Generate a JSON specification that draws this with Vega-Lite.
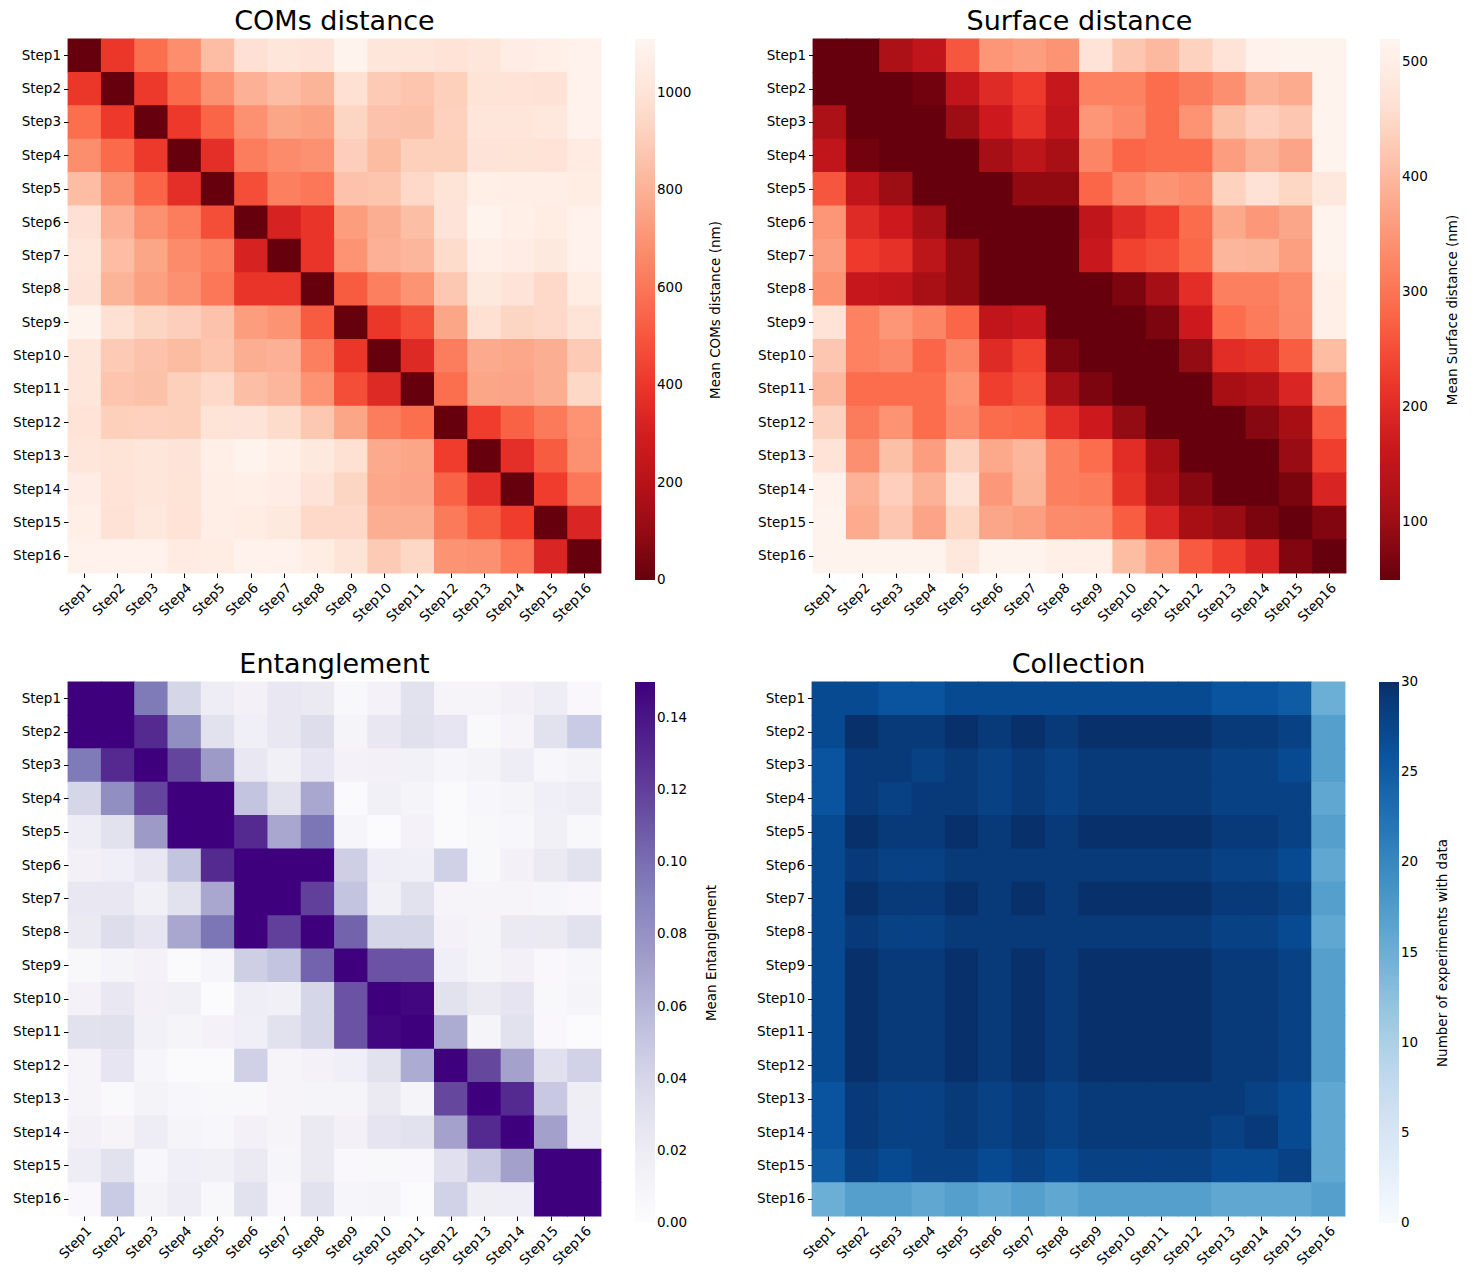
{
"$schema": "https://vega.github.io/schema/vega-lite/v6.json",
"padding": {"left": 12, "top": 7, "right": 5, "bottom": 5},
"background": "white",
"data": {"values": [
{"r":1,"c":1,"com":0,"surf":50,"ent":0.15,"n":27},{"r":1,"c":2,"com":400,"surf":50,"ent":0.15,"n":27},{"r":1,"c":3,"com":570,"surf":120,"ent":0.095,"n":26},{"r":1,"c":4,"com":680,"surf":150,"ent":0.04,"n":26},{"r":1,"c":5,"com":840,"surf":260,"ent":0.02,"n":27},{"r":1,"c":6,"com":980,"surf":350,"ent":0.013,"n":27},{"r":1,"c":7,"com":1010,"surf":360,"ent":0.025,"n":27},{"r":1,"c":8,"com":1000,"surf":345,"ent":0.022,"n":27},{"r":1,"c":9,"com":1100,"surf":470,"ent":0.006,"n":27},{"r":1,"c":10,"com":1010,"surf":420,"ent":0.012,"n":27},{"r":1,"c":11,"com":1010,"surf":400,"ent":0.03,"n":27},{"r":1,"c":12,"com":990,"surf":440,"ent":0.009,"n":27},{"r":1,"c":13,"com":1010,"surf":470,"ent":0.009,"n":26},{"r":1,"c":14,"com":1060,"surf":510,"ent":0.013,"n":26},{"r":1,"c":15,"com":1070,"surf":515,"ent":0.02,"n":25},{"r":1,"c":16,"com":1085,"surf":515,"ent":0.005,"n":15},
{"r":2,"c":1,"com":400,"surf":50,"ent":0.15,"n":27},{"r":2,"c":2,"com":0,"surf":50,"ent":0.15,"n":30},{"r":2,"c":3,"com":410,"surf":50,"ent":0.13,"n":29},{"r":2,"c":4,"com":560,"surf":60,"ent":0.083,"n":29},{"r":2,"c":5,"com":690,"surf":150,"ent":0.03,"n":30},{"r":2,"c":6,"com":800,"surf":200,"ent":0.017,"n":29},{"r":2,"c":7,"com":840,"surf":225,"ent":0.025,"n":30},{"r":2,"c":8,"com":810,"surf":160,"ent":0.035,"n":29},{"r":2,"c":9,"com":975,"surf":320,"ent":0.01,"n":30},{"r":2,"c":10,"com":890,"surf":320,"ent":0.025,"n":30},{"r":2,"c":11,"com":870,"surf":290,"ent":0.031,"n":30},{"r":2,"c":12,"com":910,"surf":312,"ent":0.027,"n":30},{"r":2,"c":13,"com":995,"surf":340,"ent":0.004,"n":29},{"r":2,"c":14,"com":990,"surf":390,"ent":0.009,"n":29},{"r":2,"c":15,"com":985,"surf":380,"ent":0.03,"n":28},{"r":2,"c":16,"com":1090,"surf":515,"ent":0.048,"n":17},
{"r":3,"c":1,"com":570,"surf":120,"ent":0.095,"n":26},{"r":3,"c":2,"com":410,"surf":50,"ent":0.13,"n":29},{"r":3,"c":3,"com":0,"surf":50,"ent":0.15,"n":29},{"r":3,"c":4,"com":410,"surf":50,"ent":0.118,"n":28},{"r":3,"c":5,"com":540,"surf":100,"ent":0.075,"n":29},{"r":3,"c":6,"com":690,"surf":170,"ent":0.025,"n":28},{"r":3,"c":7,"com":760,"surf":210,"ent":0.015,"n":29},{"r":3,"c":8,"com":740,"surf":150,"ent":0.027,"n":28},{"r":3,"c":9,"com":930,"surf":350,"ent":0.012,"n":29},{"r":3,"c":10,"com":860,"surf":330,"ent":0.013,"n":29},{"r":3,"c":11,"com":855,"surf":290,"ent":0.014,"n":29},{"r":3,"c":12,"com":915,"surf":345,"ent":0.008,"n":29},{"r":3,"c":13,"com":1010,"surf":410,"ent":0.011,"n":28},{"r":3,"c":14,"com":1010,"surf":435,"ent":0.02,"n":28},{"r":3,"c":15,"com":1020,"surf":420,"ent":0.007,"n":27},{"r":3,"c":16,"com":1090,"surf":515,"ent":0.011,"n":17},
{"r":4,"c":1,"com":680,"surf":150,"ent":0.04,"n":26},{"r":4,"c":2,"com":560,"surf":60,"ent":0.083,"n":29},{"r":4,"c":3,"com":410,"surf":50,"ent":0.118,"n":28},{"r":4,"c":4,"com":0,"surf":50,"ent":0.15,"n":29},{"r":4,"c":5,"com":370,"surf":50,"ent":0.15,"n":29},{"r":4,"c":6,"com":620,"surf":110,"ent":0.052,"n":28},{"r":4,"c":7,"com":670,"surf":145,"ent":0.03,"n":29},{"r":4,"c":8,"com":690,"surf":115,"ent":0.068,"n":28},{"r":4,"c":9,"com":905,"surf":325,"ent":0.003,"n":29},{"r":4,"c":10,"com":835,"surf":280,"ent":0.015,"n":29},{"r":4,"c":11,"com":910,"surf":290,"ent":0.01,"n":29},{"r":4,"c":12,"com":910,"surf":290,"ent":0.003,"n":29},{"r":4,"c":13,"com":1000,"surf":360,"ent":0.007,"n":28},{"r":4,"c":14,"com":995,"surf":390,"ent":0.01,"n":28},{"r":4,"c":15,"com":990,"surf":370,"ent":0.017,"n":28},{"r":4,"c":16,"com":1045,"surf":515,"ent":0.02,"n":16},
{"r":5,"c":1,"com":840,"surf":260,"ent":0.02,"n":27},{"r":5,"c":2,"com":690,"surf":150,"ent":0.03,"n":30},{"r":5,"c":3,"com":540,"surf":100,"ent":0.075,"n":29},{"r":5,"c":4,"com":370,"surf":50,"ent":0.15,"n":29},{"r":5,"c":5,"com":0,"surf":50,"ent":0.15,"n":30},{"r":5,"c":6,"com":470,"surf":50,"ent":0.13,"n":29},{"r":5,"c":7,"com":630,"surf":90,"ent":0.068,"n":30},{"r":5,"c":8,"com":600,"surf":90,"ent":0.097,"n":29},{"r":5,"c":9,"com":860,"surf":280,"ent":0.008,"n":30},{"r":5,"c":10,"com":870,"surf":325,"ent":0.001,"n":30},{"r":5,"c":11,"com":945,"surf":345,"ent":0.012,"n":30},{"r":5,"c":12,"com":995,"surf":335,"ent":0.003,"n":30},{"r":5,"c":13,"com":1070,"surf":440,"ent":0.006,"n":29},{"r":5,"c":14,"com":1065,"surf":468,"ent":0.007,"n":29},{"r":5,"c":15,"com":1065,"surf":445,"ent":0.015,"n":28},{"r":5,"c":16,"com":1050,"surf":485,"ent":0.006,"n":17},
{"r":6,"c":1,"com":980,"surf":350,"ent":0.013,"n":27},{"r":6,"c":2,"com":800,"surf":200,"ent":0.017,"n":29},{"r":6,"c":3,"com":690,"surf":170,"ent":0.025,"n":28},{"r":6,"c":4,"com":620,"surf":110,"ent":0.052,"n":28},{"r":6,"c":5,"com":470,"surf":50,"ent":0.13,"n":29},{"r":6,"c":6,"com":0,"surf":50,"ent":0.15,"n":29},{"r":6,"c":7,"com":320,"surf":50,"ent":0.15,"n":29},{"r":6,"c":8,"com":390,"surf":50,"ent":0.15,"n":29},{"r":6,"c":9,"com":730,"surf":150,"ent":0.045,"n":29},{"r":6,"c":10,"com":790,"surf":200,"ent":0.019,"n":29},{"r":6,"c":11,"com":845,"surf":230,"ent":0.017,"n":29},{"r":6,"c":12,"com":1000,"surf":288,"ent":0.044,"n":29},{"r":6,"c":13,"com":1100,"surf":375,"ent":0.006,"n":28},{"r":6,"c":14,"com":1070,"surf":352,"ent":0.013,"n":28},{"r":6,"c":15,"com":1050,"surf":372,"ent":0.022,"n":27},{"r":6,"c":16,"com":1090,"surf":515,"ent":0.03,"n":16},
{"r":7,"c":1,"com":1010,"surf":360,"ent":0.025,"n":27},{"r":7,"c":2,"com":840,"surf":225,"ent":0.025,"n":30},{"r":7,"c":3,"com":760,"surf":210,"ent":0.015,"n":29},{"r":7,"c":4,"com":670,"surf":145,"ent":0.03,"n":29},{"r":7,"c":5,"com":630,"surf":90,"ent":0.068,"n":30},{"r":7,"c":6,"com":320,"surf":50,"ent":0.15,"n":29},{"r":7,"c":7,"com":0,"surf":50,"ent":0.15,"n":30},{"r":7,"c":8,"com":390,"surf":50,"ent":0.12,"n":29},{"r":7,"c":9,"com":700,"surf":165,"ent":0.052,"n":30},{"r":7,"c":10,"com":800,"surf":235,"ent":0.015,"n":30},{"r":7,"c":11,"com":815,"surf":250,"ent":0.03,"n":30},{"r":7,"c":12,"com":955,"surf":282,"ent":0.009,"n":30},{"r":7,"c":13,"com":1070,"surf":395,"ent":0.009,"n":29},{"r":7,"c":14,"com":1060,"surf":392,"ent":0.009,"n":29},{"r":7,"c":15,"com":1030,"surf":362,"ent":0.008,"n":28},{"r":7,"c":16,"com":1085,"surf":515,"ent":0.005,"n":17},
{"r":8,"c":1,"com":1000,"surf":345,"ent":0.022,"n":27},{"r":8,"c":2,"com":810,"surf":160,"ent":0.035,"n":29},{"r":8,"c":3,"com":740,"surf":150,"ent":0.027,"n":28},{"r":8,"c":4,"com":690,"surf":115,"ent":0.068,"n":28},{"r":8,"c":5,"com":600,"surf":90,"ent":0.097,"n":29},{"r":8,"c":6,"com":390,"surf":50,"ent":0.15,"n":29},{"r":8,"c":7,"com":390,"surf":50,"ent":0.12,"n":29},{"r":8,"c":8,"com":0,"surf":50,"ent":0.15,"n":29},{"r":8,"c":9,"com":510,"surf":50,"ent":0.105,"n":29},{"r":8,"c":10,"com":630,"surf":70,"ent":0.04,"n":29},{"r":8,"c":11,"com":700,"surf":110,"ent":0.04,"n":29},{"r":8,"c":12,"com":880,"surf":205,"ent":0.012,"n":29},{"r":8,"c":13,"com":1030,"surf":318,"ent":0.01,"n":28},{"r":8,"c":14,"com":1000,"surf":317,"ent":0.022,"n":28},{"r":8,"c":15,"com":945,"surf":333,"ent":0.022,"n":27},{"r":8,"c":16,"com":1050,"surf":502,"ent":0.03,"n":16},
{"r":9,"c":1,"com":1100,"surf":470,"ent":0.006,"n":27},{"r":9,"c":2,"com":975,"surf":320,"ent":0.01,"n":30},{"r":9,"c":3,"com":930,"surf":350,"ent":0.012,"n":29},{"r":9,"c":4,"com":905,"surf":325,"ent":0.003,"n":29},{"r":9,"c":5,"com":860,"surf":280,"ent":0.008,"n":30},{"r":9,"c":6,"com":730,"surf":150,"ent":0.045,"n":29},{"r":9,"c":7,"com":700,"surf":165,"ent":0.052,"n":30},{"r":9,"c":8,"com":510,"surf":50,"ent":0.105,"n":29},{"r":9,"c":9,"com":0,"surf":50,"ent":0.15,"n":30},{"r":9,"c":10,"com":400,"surf":50,"ent":0.112,"n":30},{"r":9,"c":11,"com":470,"surf":70,"ent":0.112,"n":30},{"r":9,"c":12,"com":760,"surf":170,"ent":0.017,"n":30},{"r":9,"c":13,"com":975,"surf":290,"ent":0.01,"n":29},{"r":9,"c":14,"com":930,"surf":310,"ent":0.013,"n":29},{"r":9,"c":15,"com":945,"surf":332,"ent":0.005,"n":28},{"r":9,"c":16,"com":995,"surf":502,"ent":0.008,"n":17},
{"r":10,"c":1,"com":1010,"surf":420,"ent":0.012,"n":27},{"r":10,"c":2,"com":890,"surf":320,"ent":0.025,"n":30},{"r":10,"c":3,"com":860,"surf":330,"ent":0.013,"n":29},{"r":10,"c":4,"com":835,"surf":280,"ent":0.015,"n":29},{"r":10,"c":5,"com":870,"surf":325,"ent":0.001,"n":30},{"r":10,"c":6,"com":790,"surf":200,"ent":0.019,"n":29},{"r":10,"c":7,"com":800,"surf":235,"ent":0.015,"n":30},{"r":10,"c":8,"com":630,"surf":70,"ent":0.04,"n":29},{"r":10,"c":9,"com":400,"surf":50,"ent":0.112,"n":30},{"r":10,"c":10,"com":0,"surf":50,"ent":0.15,"n":30},{"r":10,"c":11,"com":350,"surf":50,"ent":0.147,"n":30},{"r":10,"c":12,"com":620,"surf":92,"ent":0.03,"n":30},{"r":10,"c":13,"com":775,"surf":203,"ent":0.022,"n":29},{"r":10,"c":14,"com":765,"surf":212,"ent":0.028,"n":29},{"r":10,"c":15,"com":790,"surf":268,"ent":0.006,"n":28},{"r":10,"c":16,"com":890,"surf":405,"ent":0.01,"n":17},
{"r":11,"c":1,"com":1010,"surf":400,"ent":0.03,"n":27},{"r":11,"c":2,"com":870,"surf":290,"ent":0.031,"n":30},{"r":11,"c":3,"com":855,"surf":290,"ent":0.014,"n":29},{"r":11,"c":4,"com":910,"surf":290,"ent":0.01,"n":29},{"r":11,"c":5,"com":945,"surf":345,"ent":0.012,"n":30},{"r":11,"c":6,"com":845,"surf":230,"ent":0.017,"n":29},{"r":11,"c":7,"com":815,"surf":250,"ent":0.03,"n":30},{"r":11,"c":8,"com":700,"surf":110,"ent":0.04,"n":29},{"r":11,"c":9,"com":470,"surf":70,"ent":0.112,"n":30},{"r":11,"c":10,"com":350,"surf":50,"ent":0.147,"n":30},{"r":11,"c":11,"com":0,"surf":50,"ent":0.15,"n":30},{"r":11,"c":12,"com":570,"surf":50,"ent":0.066,"n":30},{"r":11,"c":13,"com":760,"surf":112,"ent":0.01,"n":29},{"r":11,"c":14,"com":755,"surf":128,"ent":0.03,"n":29},{"r":11,"c":15,"com":790,"surf":190,"ent":0.005,"n":28},{"r":11,"c":16,"com":940,"surf":355,"ent":0.001,"n":17},
{"r":12,"c":1,"com":990,"surf":440,"ent":0.009,"n":27},{"r":12,"c":2,"com":910,"surf":312,"ent":0.027,"n":30},{"r":12,"c":3,"com":915,"surf":345,"ent":0.008,"n":29},{"r":12,"c":4,"com":910,"surf":290,"ent":0.003,"n":29},{"r":12,"c":5,"com":995,"surf":335,"ent":0.003,"n":30},{"r":12,"c":6,"com":1000,"surf":288,"ent":0.044,"n":29},{"r":12,"c":7,"com":955,"surf":282,"ent":0.009,"n":30},{"r":12,"c":8,"com":880,"surf":205,"ent":0.012,"n":29},{"r":12,"c":9,"com":760,"surf":170,"ent":0.017,"n":30},{"r":12,"c":10,"com":620,"surf":92,"ent":0.03,"n":30},{"r":12,"c":11,"com":570,"surf":50,"ent":0.066,"n":30},{"r":12,"c":12,"com":0,"surf":50,"ent":0.15,"n":30},{"r":12,"c":13,"com":420,"surf":50,"ent":0.117,"n":29},{"r":12,"c":14,"com":530,"surf":80,"ent":0.071,"n":29},{"r":12,"c":15,"com":610,"surf":112,"ent":0.032,"n":28},{"r":12,"c":16,"com":700,"surf":265,"ent":0.043,"n":17},
{"r":13,"c":1,"com":1010,"surf":470,"ent":0.009,"n":26},{"r":13,"c":2,"com":995,"surf":340,"ent":0.004,"n":29},{"r":13,"c":3,"com":1010,"surf":410,"ent":0.011,"n":28},{"r":13,"c":4,"com":1000,"surf":360,"ent":0.007,"n":28},{"r":13,"c":5,"com":1070,"surf":440,"ent":0.006,"n":29},{"r":13,"c":6,"com":1100,"surf":375,"ent":0.006,"n":28},{"r":13,"c":7,"com":1070,"surf":395,"ent":0.009,"n":29},{"r":13,"c":8,"com":1030,"surf":318,"ent":0.01,"n":28},{"r":13,"c":9,"com":975,"surf":290,"ent":0.01,"n":29},{"r":13,"c":10,"com":775,"surf":203,"ent":0.022,"n":29},{"r":13,"c":11,"com":760,"surf":112,"ent":0.01,"n":29},{"r":13,"c":12,"com":420,"surf":50,"ent":0.117,"n":29},{"r":13,"c":13,"com":0,"surf":50,"ent":0.15,"n":29},{"r":13,"c":14,"com":370,"surf":50,"ent":0.13,"n":28},{"r":13,"c":15,"com":510,"surf":97,"ent":0.049,"n":27},{"r":13,"c":16,"com":690,"surf":230,"ent":0.018,"n":16},
{"r":14,"c":1,"com":1060,"surf":510,"ent":0.013,"n":26},{"r":14,"c":2,"com":990,"surf":390,"ent":0.009,"n":29},{"r":14,"c":3,"com":1010,"surf":435,"ent":0.02,"n":28},{"r":14,"c":4,"com":995,"surf":390,"ent":0.01,"n":28},{"r":14,"c":5,"com":1065,"surf":468,"ent":0.007,"n":29},{"r":14,"c":6,"com":1070,"surf":352,"ent":0.013,"n":28},{"r":14,"c":7,"com":1060,"surf":392,"ent":0.009,"n":29},{"r":14,"c":8,"com":1000,"surf":317,"ent":0.022,"n":28},{"r":14,"c":9,"com":930,"surf":310,"ent":0.013,"n":29},{"r":14,"c":10,"com":765,"surf":212,"ent":0.028,"n":29},{"r":14,"c":11,"com":755,"surf":128,"ent":0.03,"n":29},{"r":14,"c":12,"com":530,"surf":80,"ent":0.071,"n":29},{"r":14,"c":13,"com":370,"surf":50,"ent":0.13,"n":28},{"r":14,"c":14,"com":0,"surf":50,"ent":0.15,"n":29},{"r":14,"c":15,"com":420,"surf":68,"ent":0.072,"n":27},{"r":14,"c":16,"com":600,"surf":188,"ent":0.019,"n":16},
{"r":15,"c":1,"com":1070,"surf":515,"ent":0.02,"n":25},{"r":15,"c":2,"com":985,"surf":380,"ent":0.03,"n":28},{"r":15,"c":3,"com":1020,"surf":420,"ent":0.007,"n":27},{"r":15,"c":4,"com":990,"surf":370,"ent":0.017,"n":28},{"r":15,"c":5,"com":1065,"surf":445,"ent":0.015,"n":28},{"r":15,"c":6,"com":1050,"surf":372,"ent":0.022,"n":27},{"r":15,"c":7,"com":1030,"surf":362,"ent":0.008,"n":28},{"r":15,"c":8,"com":945,"surf":333,"ent":0.022,"n":27},{"r":15,"c":9,"com":945,"surf":332,"ent":0.005,"n":28},{"r":15,"c":10,"com":790,"surf":268,"ent":0.006,"n":28},{"r":15,"c":11,"com":790,"surf":190,"ent":0.005,"n":28},{"r":15,"c":12,"com":610,"surf":112,"ent":0.032,"n":28},{"r":15,"c":13,"com":510,"surf":97,"ent":0.049,"n":27},{"r":15,"c":14,"com":420,"surf":68,"ent":0.072,"n":27},{"r":15,"c":15,"com":0,"surf":50,"ent":0.15,"n":28},{"r":15,"c":16,"com":330,"surf":75,"ent":0.15,"n":16},
{"r":16,"c":1,"com":1085,"surf":515,"ent":0.005,"n":15},{"r":16,"c":2,"com":1090,"surf":515,"ent":0.048,"n":17},{"r":16,"c":3,"com":1090,"surf":515,"ent":0.011,"n":17},{"r":16,"c":4,"com":1045,"surf":515,"ent":0.02,"n":16},{"r":16,"c":5,"com":1050,"surf":485,"ent":0.006,"n":17},{"r":16,"c":6,"com":1090,"surf":515,"ent":0.03,"n":16},{"r":16,"c":7,"com":1085,"surf":515,"ent":0.005,"n":17},{"r":16,"c":8,"com":1050,"surf":502,"ent":0.03,"n":16},{"r":16,"c":9,"com":995,"surf":502,"ent":0.008,"n":17},{"r":16,"c":10,"com":890,"surf":405,"ent":0.01,"n":17},{"r":16,"c":11,"com":940,"surf":355,"ent":0.001,"n":17},{"r":16,"c":12,"com":700,"surf":265,"ent":0.043,"n":17},{"r":16,"c":13,"com":690,"surf":230,"ent":0.018,"n":16},{"r":16,"c":14,"com":600,"surf":188,"ent":0.019,"n":16},{"r":16,"c":15,"com":330,"surf":75,"ent":0.15,"n":16},{"r":16,"c":16,"com":0,"surf":50,"ent":0.15,"n":17}
]},
"vconcat": [
{"hconcat": [
{"width": 533, "height": 534, "title": "COMs distance", "mark": {"type": "rect", "width": {"band": 1.025}, "height": {"band": 1.025}},
 "encoding": {
  "x": {"field": "c", "type": "ordinal", "title": null, "axis": {"labelExpr": "'Step' + datum.value"}},
  "y": {"field": "r", "type": "ordinal", "title": null, "axis": {"labelExpr": "'Step' + datum.value"}},
  "color": {"field": "com", "type": "quantitative",
   "scale": {"domain": [0,138.75,277.5,416.25,555,693.75,832.5,971.25,1110], "range": ["#67000d","#a50f15","#cb181d","#ef3b2c","#fb6a4a","#fc9272","#fcbba1","#fee0d2","#fff5f0"], "interpolate": "rgb"},
   "legend": {"title": "Mean COMs distance (nm)", "values": [0,200,400,600,800,1000], "format": "d", "encode": {"title": {"update": {"angle": {"value": -90}}}, "labels": {"update": {"baseline": {"value": "middle"}}}}}}
 }},
{"width": 533, "height": 534, "title": "Surface distance", "mark": {"type": "rect", "width": {"band": 1.025}, "height": {"band": 1.025}},
 "encoding": {
  "x": {"field": "c", "type": "ordinal", "title": null, "axis": {"labelExpr": "'Step' + datum.value"}},
  "y": {"field": "r", "type": "ordinal", "title": null, "axis": {"labelExpr": "'Step' + datum.value"}},
  "color": {"field": "surf", "type": "quantitative",
   "scale": {"domain": [50,108.75,167.5,226.25,285,343.75,402.5,461.25,520], "range": ["#67000d","#a50f15","#cb181d","#ef3b2c","#fb6a4a","#fc9272","#fcbba1","#fee0d2","#fff5f0"], "interpolate": "rgb"},
   "legend": {"title": "Mean Surface distance (nm)", "values": [100,200,300,400,500], "format": "d", "encode": {"title": {"update": {"angle": {"value": -90}}}, "labels": {"update": {"baseline": {"value": "middle"}}}}}}
 }}
], "spacing": 34, "resolve": {"scale": {"color": "independent"}}},
{"hconcat": [
{"width": 533, "height": 534, "title": "Entanglement", "mark": {"type": "rect", "width": {"band": 1.025}, "height": {"band": 1.025}},
 "encoding": {
  "x": {"field": "c", "type": "ordinal", "title": null, "axis": {"labelExpr": "'Step' + datum.value"}},
  "y": {"field": "r", "type": "ordinal", "title": null, "axis": {"labelExpr": "'Step' + datum.value"}},
  "color": {"field": "ent", "type": "quantitative",
   "scale": {"domain": [0,0.01875,0.0375,0.05625,0.075,0.09375,0.1125,0.13125,0.15], "range": ["#fcfbfd","#efedf5","#dadaeb","#bcbddc","#9e9ac8","#807dba","#6a51a3","#54278f","#3f007d"], "interpolate": "rgb"},
   "legend": {"title": "Mean Entanglement", "values": [0,0.02,0.04,0.06,0.08,0.1,0.12,0.14], "format": ".2f", "encode": {"title": {"update": {"angle": {"value": -90}}}, "labels": {"update": {"baseline": {"value": "middle"}}}}}}
 }},
{"width": 533, "height": 534, "title": "Collection", "mark": {"type": "rect", "width": {"band": 1.025}, "height": {"band": 1.025}},
 "encoding": {
  "x": {"field": "c", "type": "ordinal", "title": null, "axis": {"labelExpr": "'Step' + datum.value"}},
  "y": {"field": "r", "type": "ordinal", "title": null, "axis": {"labelExpr": "'Step' + datum.value"}},
  "color": {"field": "n", "type": "quantitative",
   "scale": {"domain": [0,3.75,7.5,11.25,15,18.75,22.5,26.25,30], "range": ["#f7fbff","#deebf7","#c6dbef","#9ecae1","#6baed6","#4292c6","#2171b5","#08519c","#08306b"], "interpolate": "rgb"},
   "legend": {"title": "Number of experiments with data", "values": [0,5,10,15,20,25,30], "format": "d", "encode": {"title": {"update": {"angle": {"value": -90}}}, "labels": {"update": {"baseline": {"value": "middle"}}}}}}
 }}
], "spacing": 37, "resolve": {"scale": {"color": "independent"}}}
],
"spacing": 26,
"resolve": {"scale": {"color": "independent"}},
"config": {
 "font": "DejaVu Sans",
 "view": {"stroke": null},
 "title": {"fontSize": 27, "fontWeight": "normal", "font": "DejaVu Sans", "color": "#000", "anchor": "middle", "offset": 3, "baseline": "alphabetic"},
 "axis": {"labelFont": "DejaVu Sans", "labelFontSize": 13.5, "labelColor": "#000", "tickColor": "#000", "tickSize": 4.5, "tickWidth": 1, "labelPadding": 3, "domain": false, "grid": false},
 "axisX": {"labelAngle": -45, "labelAlign": "right", "labelBaseline": "top"},
 "legend": {"orient": "right", "offset": 34, "gradientLength": 541, "gradientThickness": 20, "gradientStrokeWidth": 0, "labelFont": "DejaVu Sans", "labelFontSize": 13.5, "labelColor": "#000", "labelOffset": 10, "titleFont": "DejaVu Sans", "titleFontSize": 13.5, "titleFontWeight": "normal", "titleColor": "#000", "titleOrient": "right", "titleAnchor": "middle", "titleAlign": "center", "titleBaseline": "top", "titlePadding": 18, "titleLimit": 600}
}
}
